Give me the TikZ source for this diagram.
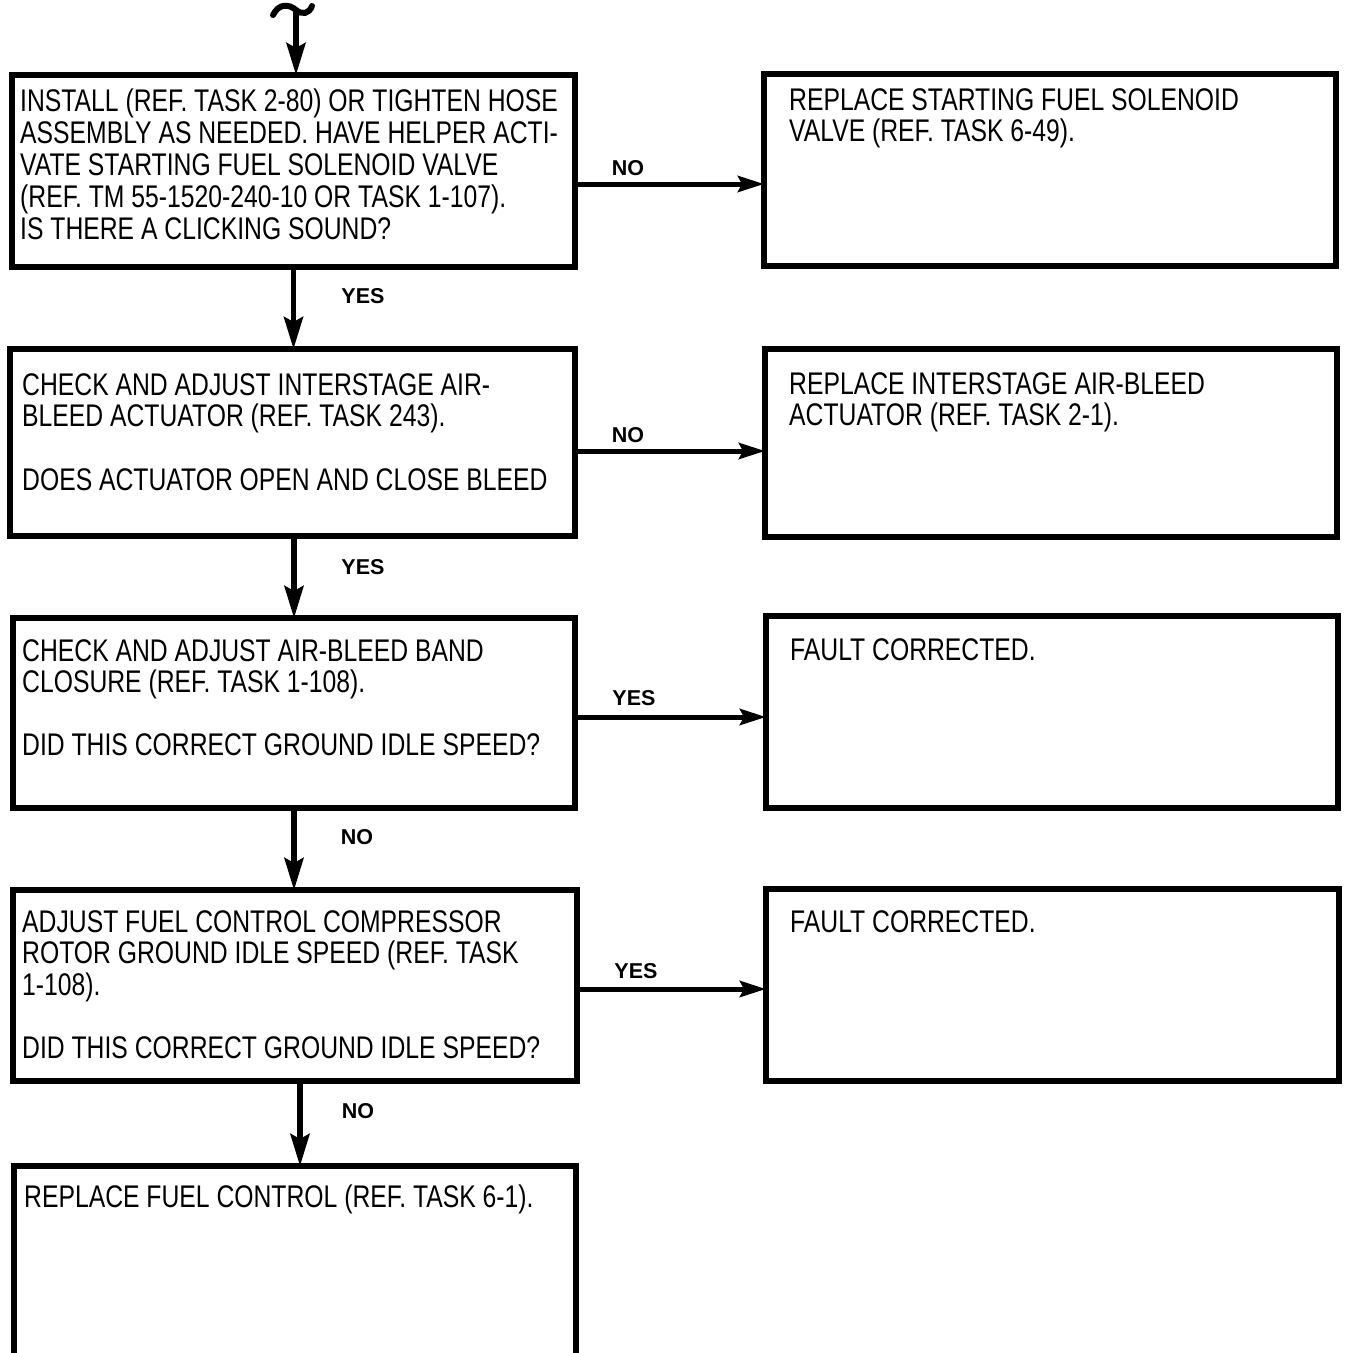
\documentclass[tikz,border=0pt]{standalone}
\usepackage{fontspec}
\newfontfamily\boxfont{Liberation Sans}[FakeStretch=0.79]
\newfontfamily\labfont{Liberation Sans}
\usetikzlibrary{arrows.meta}
\begin{document}
\begin{tikzpicture}[x=1pt,y=-1pt,
  box/.style={draw,line width=5.5pt,inner sep=0pt,outer sep=0pt},
  txt/.style={anchor=north west,inner sep=0pt,align=left,
    font=\boxfont\fontsize{31.3}{31.8}\selectfont},
  lab/.style={inner sep=0pt,font=\labfont\bfseries\fontsize{21.5}{22}\selectfont},
  varr/.style={line width=5.5pt,-{Stealth[length=32pt,width=19pt,inset=5pt]}},
  harr/.style={line width=5pt,-{Stealth[length=26pt,width=16pt,inset=4pt]}}]
\useasboundingbox (0,0) rectangle (1345,1353);

% boxes
\node[box,minimum width=563pt,minimum height=192pt] (B1) at (293.5,171) {};
\node[box,minimum width=572pt,minimum height=192pt] (R1) at (1050,170) {};
\node[box,minimum width=565pt,minimum height=187pt] (B2) at (292.5,442.5) {};
\node[box,minimum width=572pt,minimum height=188pt] (R2) at (1051,443) {};
\node[box,minimum width=562pt,minimum height=190pt] (B3) at (294,713) {};
\node[box,minimum width=572pt,minimum height=192pt] (R3) at (1052,712) {};
\node[box,minimum width=564pt,minimum height=191pt] (B4) at (295,985.5) {};
\node[box,minimum width=573pt,minimum height=192pt] (R4) at (1052.5,985) {};
\node[inner sep=0pt,outer sep=0pt,minimum width=562pt,minimum height=200pt] (B5) at (295,1266) {};
\draw[line width=5.5pt] (B5.south west) -- (B5.north west) -- (B5.north east) -- (B5.south east);

% texts
\node[txt] (T1) at (20,89) {INSTALL (REF. TASK 2-80) OR TIGHTEN HOSE\\ASSEMBLY AS NEEDED. HAVE HELPER ACTI-\\VATE STARTING FUEL SOLENOID VALVE\\(REF. TM 55-1520-240-10 OR TASK 1-107).\\IS THERE A CLICKING SOUND?};
\node[txt] (S1) at (789,88) {REPLACE STARTING FUEL SOLENOID\\VALVE (REF. TASK 6-49).};
\node[txt] (T2) at (22,373) {CHECK AND ADJUST INTERSTAGE AIR-\\BLEED ACTUATOR (REF. TASK 243).\\[31.8pt]DOES ACTUATOR OPEN AND CLOSE BLEED};
\node[txt] (S2) at (789,372) {REPLACE INTERSTAGE AIR-BLEED\\ACTUATOR (REF. TASK 2-1).};
\node[txt] (T3) at (22,639) {CHECK AND ADJUST AIR-BLEED BAND\\CLOSURE (REF. TASK 1-108).\\[30.5pt]DID THIS CORRECT GROUND IDLE SPEED?};
\node[txt] (S3) at (790,638) {FAULT CORRECTED.};
\node[txt] (T4) at (22,910) {ADJUST FUEL CONTROL COMPRESSOR\\ROTOR GROUND IDLE SPEED (REF. TASK\\1-108).\\[31pt]DID THIS CORRECT GROUND IDLE SPEED?};
\node[txt] (S4) at (790,910) {FAULT CORRECTED.};
\node[txt] (T5) at (24,1185) {REPLACE FUEL CONTROL (REF. TASK 6-1).};

% entry
\coordinate (top) at (296,12);
\draw[line width=6pt,line cap=round] (273,15) .. controls (279,3) and (289,4) .. (296,10) .. controls (302,15) and (309,14) .. (312,6);
\draw[varr] (top) -- (top |- B1.north);

% vertical arrows
\draw[varr] (B1.south) -- (B1.south |- B2.north);
\draw[varr] (B3.north |- B2.south) -- (B3.north);
\draw[varr] (B3.south) -- (B3.south |- B4.north);
\draw[varr] ([xshift=5pt]B4.south) -- ([xshift=5pt]B4.south |- B5.north);

% horizontal arrows
\draw[harr] (B1.east |- 0,184) -- (R1.west |- 0,184);
\draw[harr] (B2.east |- 0,451) -- (R2.west |- 0,451);
\draw[harr] (B3.east |- 0,717) -- (R3.west |- 0,717);
\draw[harr] (B4.east |- 0,989) -- (R4.west |- 0,989);

% labels
\node[lab] (L1) at (363,296) {YES};
\node[lab] (L2) at (363,567) {YES};
\node[lab] (L3) at (357,837) {NO};
\node[lab] (L4) at (358,1111) {NO};
\node[lab] (L5) at (628,168) {NO};
\node[lab] (L6) at (628,435) {NO};
\node[lab] (L7) at (634,698) {YES};
\node[lab] (L8) at (636,971) {YES};
\end{tikzpicture}
\end{document}
